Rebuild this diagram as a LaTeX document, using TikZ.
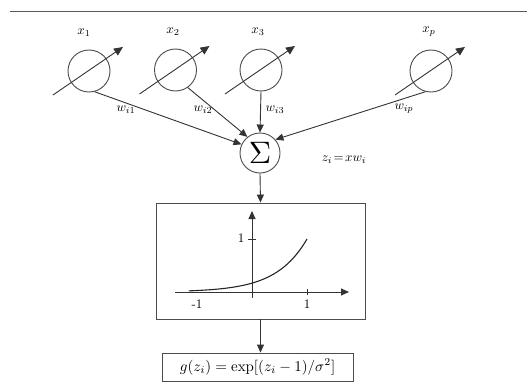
\documentclass[tikz,border=0pt]{standalone}
\usetikzlibrary{arrows.meta,calc}
\begin{document}
\begin{tikzpicture}[x=1pt,y=-1pt,
  inp/.style={circle, draw=black!70, line width=0.9pt, minimum size=42pt, inner sep=0pt},
  sumnode/.style={circle, draw=black!70, line width=0.9pt, minimum size=40pt, inner sep=0pt},
  conn/.style={draw=black!80, line width=0.9pt, -{Triangle[length=8pt,width=7pt]}},
  thru/.style={draw=black!80, line width=0.9pt, -{Triangle[length=9pt,width=8pt]}},
  lab/.style={inner sep=0pt},
  panel/.style={draw=black!70, line width=0.9pt, inner sep=0pt},
  axis/.style={draw=black!80, line width=0.9pt}]
\useasboundingbox (0,0) rectangle (527,383);
\fill[white] (0,0) rectangle (527,383);
% top rule
\draw[black!65, line width=0.9pt] (10,11) -- (527,11);
% input neurons
\node[inp] (x1) at (89,71) {};
\node[inp] (x2) at (175.5,70) {};
\node[inp] (x3) at (261,70) {};
\node[inp] (xp) at (431,71) {};
\foreach \n in {x1,x2,x3,xp}{
  \coordinate (\n a) at ($(\n)+(-36,24)$);
  \coordinate (\n b) at ($(\n)+(34,-24)$);
  \draw[thru] (\n a) -- (\n b);
}
\node[lab] (lx1) at (84,33) {\scalebox{1.3}{$x_1$}};
\node[lab] (lx2) at (173,32) {\scalebox{1.3}{$x_2$}};
\node[lab] (lx3) at (258,32) {\scalebox{1.3}{$x_3$}};
\node[lab] (lxp) at (429,32) {\scalebox{1.3}{$x_p$}};
% summation
\node[sumnode] (sigma) at (260,153) {\scalebox{3.1}{$\Sigma$}};
\draw[conn] (x1.-75) -- (sigma.155);
\draw[conn] (x2.-55) -- (sigma.128);
\draw[conn] (x3.south) -- (sigma.north);
\draw[conn] (xp.-105) -- (sigma.41);
\node[lab] (w1) at (126,110) {\scalebox{1.3}{$w_{i1}$}};
\node[lab] (w2) at (203,110) {\scalebox{1.3}{$w_{i2}$}};
\node[lab] (w3) at (275,110) {\scalebox{1.3}{$w_{i3}$}};
\node[lab] (wp) at (404,109) {\scalebox{1.3}{$w_{ip}$}};
\node[lab] (zl) at (344,160) {\scalebox{1.3}{$z_i\!=\!xw_i$}};
% activation panel
\node[panel, minimum width=209pt, minimum height=116pt] (box) at (260.5,261) {};
\draw[conn] (sigma.south) -- (box.north);
\draw[axis, -{Triangle[length=8pt,width=7pt]}] (175,292) -- (349,292);
\draw[axis, -{Triangle[length=8pt,width=7pt]}] (252,298) -- (252,211);
\draw[axis] (248,239) -- (256,239);
\draw[axis] (307,289) -- (307,295);
\node[lab] (t1y) at (241,238) {\scalebox{1.3}{1}};
\node[lab] (t1x) at (307,304) {\scalebox{1.3}{1}};
\node[lab] (tm1) at (197,304) {\scalebox{1.3}{-1}};
\draw[black!85, line width=1.1pt, domain=-1.15:1, samples=60, smooth]
  plot ({252+55*\x},{292-53*exp((\x-1)/0.56)});
% output formula
\node[panel, minimum width=191pt, minimum height=28pt] (g) at (257.5,367) {\scalebox{1.5}{$g(z_i)=\exp[(z_i-1)/\sigma^2]$}};
\draw[conn] (box.south) -- (box.south |- g.north);
\end{tikzpicture}
\end{document}
